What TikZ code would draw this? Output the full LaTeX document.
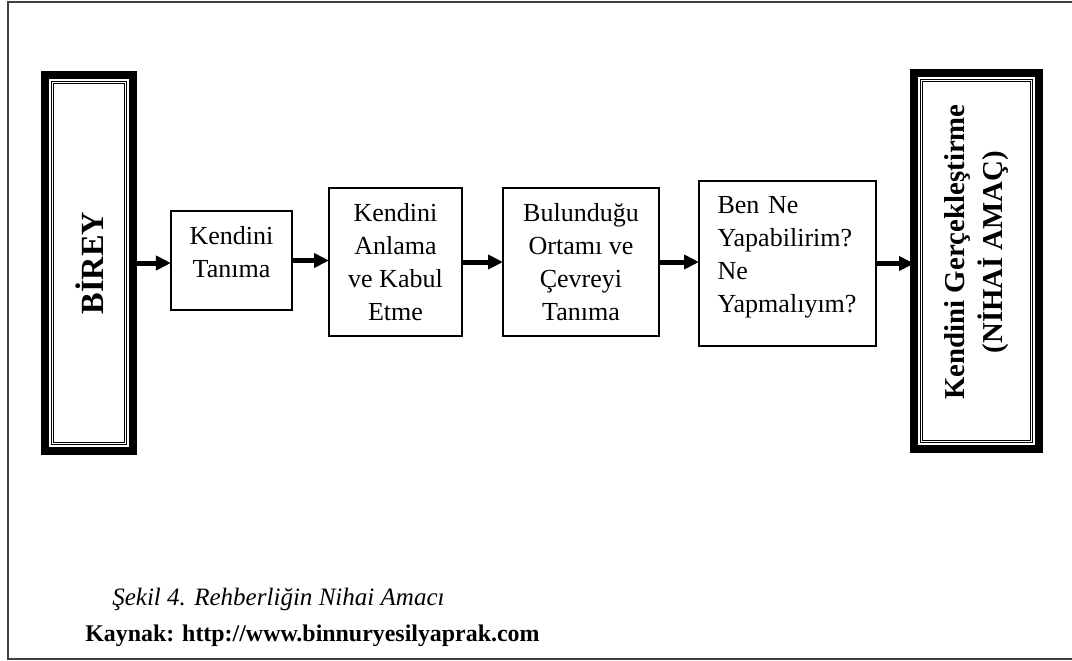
\documentclass[tikz,border=0pt]{standalone}
\usepackage{fontspec}
\setmainfont{Liberation Serif}
\usetikzlibrary{arrows.meta}
\newdimen\pxu
\pxu=0.025cm

\begin{document}
\begin{tikzpicture}[x=0.025cm, y=-0.025cm,
  bigbox/.style={draw, line width=8\pxu, outer sep=0pt, inner sep=0pt},
  innerframe/.style={draw, line width=0.9\pxu, double, double distance=1.3\pxu},
  stepbox/.style={draw, line width=1.5\pxu, outer sep=0pt, inner sep=0pt, align=center,
    font=\fontsize{18.5}{23.4}\selectfont},
  steptext/.style={align=center, inner sep=0pt, font=\fontsize{18.5}{23.4}\selectfont},
  bigtext/.style={rotate=90, align=center, font=\fontsize{20.5}{27}\selectfont\bfseries},
  flow/.style={-{Triangle[length=0.375cm, width=0.35cm]}, line width=5\pxu},
  frameline/.style={draw=black!75, line width=1.5\pxu}]

\useasboundingbox (0,0) rectangle (1072,660);

% outer frame
\draw[frameline] (1080,2) -- (8,2) -- (8,659) -- (1080,659);

% left and right boxes
\node[bigbox, minimum width=88\pxu, minimum height=376\pxu] (birey) at (89,263) {};
\draw[innerframe] ([shift={(7.3,7.3)}]birey.north west) rectangle ([shift={(-7.3,-7.3)}]birey.south east);
\node[bigtext, font=\fontsize{23}{27}\selectfont\bfseries] (bireytext) at (90,263) {BİREY};

\node[bigbox, minimum width=125\pxu, minimum height=376\pxu] (amac) at (976.5,261) {};
\draw[innerframe] ([shift={(7.3,7.3)}]amac.north west) rectangle ([shift={(-7.3,-7.3)}]amac.south east);
\node[bigtext] (amactext) at (977,252) {Kendini Gerçekleştirme\\(NİHAİ AMAÇ)};

% steps
\node[stepbox, minimum width=121\pxu, minimum height=99\pxu] (tanima) at (231.5,260.5) {};
\node[steptext] (tanimatext) at ([yshift=8\pxu]tanima.center) {Kendini\\Tanıma};
\node[stepbox, minimum width=133\pxu, minimum height=148\pxu] (anlama) at (395.5,262) {Kendini\\Anlama\\ve Kabul\\Etme};
\node[stepbox, minimum width=156\pxu, minimum height=148\pxu] (ortam) at (581,262) {Bulunduğu\\Ortamı ve\\Çevreyi\\Tanıma};
\node[stepbox, minimum width=177\pxu, minimum height=165\pxu] (yapma) at (787.5,263.5) {};
\node[steptext, text width=140\pxu, align=left] (yapmatext) at ([yshift=6\pxu]yapma.center) {Ben Ne\\Yapabilirim?\\Ne\\Yapmalıyım?};

% arrows
\draw[flow] (birey.east) -- (birey.east -| tanima.west);
\draw[flow] (tanima.east) -- (tanima.east -| anlama.west);
\draw[flow] (anlama.east) -- (anlama.east -| ortam.west);
\draw[flow] (ortam.east) -- (ortam.east -| yapma.west);
\draw[flow] (yapma.east) -- (yapma.east -| amac.west);

% caption
\node[anchor=base west, inner sep=0pt, font=\fontsize{17.8}{21}\selectfont\itshape] (sekil) at (112,605) {Şekil 4. Rehberliğin Nihai Amacı};
\node[anchor=base west, inner sep=0pt, font=\fontsize{17}{21}\selectfont\bfseries] (kaynak) at (85,641) {Kaynak: http://www.binnuryesilyaprak.com};

\end{tikzpicture}
\end{document}
